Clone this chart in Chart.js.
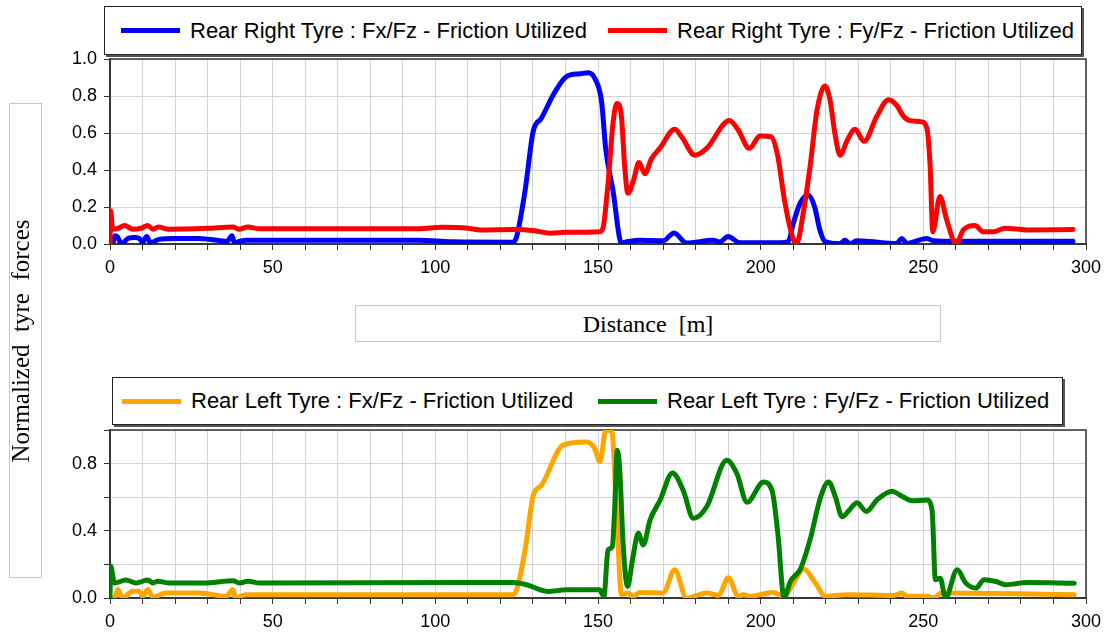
<!DOCTYPE html>
<html>
<head>
<meta charset="utf-8">
<script src="https://cdn.jsdelivr.net/npm/chart.js@4.4.0/dist/chart.umd.min.js"></script>
<style>
  body { margin: 0; background: #fff; }
  #page { position: relative; width: 1112px; height: 635px; overflow: hidden;
          font-family: "Liberation Sans", Arial, sans-serif; }
  canvas { position: absolute; left: 0; }
  .legend { position: absolute; background: #fff; border: 1px solid #222;
            box-shadow: 2px 2px 0 #555; box-sizing: border-box; }
  .item { position: absolute; top: 0; height: 100%; display: flex; align-items: center;
          font-size: 22px; color: #000; white-space: nowrap; }
  .swatch { display: inline-block; width: 59px; height: 5px; margin-right: 10px; }
  .titlebox { position: absolute; border: 1px solid #c8c8c8; box-sizing: border-box;
              font-family: "Liberation Serif", "Times New Roman", serif; font-size: 24px; color: #000; }
  .titlebox span { position: absolute; left: 50%; top: 50%; white-space: pre; }
</style>
</head>
<body>
<div id="page">
  <div class="legend" id="legendTop" style="left:104px;top:6px;width:978px;height:49px;"></div>
  <canvas id="chartTop" width="1112" height="290" style="top:0;"></canvas>

  <div class="titlebox" style="left:355px;top:305px;width:586px;height:37px;">
    <span id="xTitle" style="transform:translate(-50%,-50%);"></span>
  </div>

  <div class="legend" id="legendBottom" style="left:112px;top:377px;width:951px;height:48px;"></div>
  <canvas id="chartBottom" width="1112" height="295" style="top:340px;"></canvas>

  <div class="titlebox" style="left:9px;top:103px;width:33px;height:475px;font-size:25px;">
    <span id="yTitle" style="transform:translate(-52%,-50%) rotate(-90deg);"></span>
  </div>
</div>

<script>
// Axis titles
const xAxisTitle = "Distance  [m]";
const yAxisTitle = "Normalized  tyre  forces";

// Series names
const rrFxName = "Rear Right Tyre : Fx/Fz - Friction Utilized";
const rrFyName = "Rear Right Tyre : Fy/Fz - Friction Utilized";
const rlFxName = "Rear Left Tyre : Fx/Fz - Friction Utilized";
const rlFyName = "Rear Left Tyre : Fy/Fz - Friction Utilized";

// Rear right, longitudinal friction utilisation (distance m / ratio)
const rrFxDist = [0, 0.8, 1.5, 2.2, 3.6, 5.5, 7.5, 9, 10, 11.3,
  12.5, 15, 20, 27, 33, 36, 37.5, 38.3, 40, 42,
  60, 95, 105, 123.9, 125, 127.6, 130.1, 132.6, 136.7, 140.3,
  144.4, 147, 149, 151.1, 152.4, 154.6, 157.2, 159.2, 162.8, 170,
  173.4, 177.2, 185.4, 187.4, 190, 193.6, 205.9, 208.5, 210, 212.1,
  214.6, 216.6, 218.2, 219.8, 224.4, 225.9, 227.5, 229.5, 233.6, 241.8,
  243.4, 244.9, 251.1, 253.1, 256.2, 296];
const rrFxVal = [0.0, 0.0, 0.045, 0.04, 0.0, 0.03, 0.035, 0.03, 0.01, 0.04,
  0.005, 0.025, 0.03, 0.03, 0.02, 0.015, 0.045, 0.005, 0.015, 0.02,
  0.02, 0.02, 0.012, 0.01, 0.04, 0.29, 0.61, 0.68, 0.82, 0.905,
  0.92, 0.926, 0.896, 0.77, 0.51, 0.29, 0.007, 0.013, 0.02, 0.017,
  0.06, 0.005, 0.02, 0.011, 0.04, 0.007, 0.007, 0.013, 0.11, 0.22,
  0.265, 0.2, 0.076, 0.013, 0.002, 0.02, 0.002, 0.017, 0.013, 0.003,
  0.03, 0.003, 0.03, 0.017, 0.015, 0.015];

// Rear right, lateral friction utilisation
const rrFyDist = [0, 0.2, 0.8, 2.5, 4.5, 7, 9.5, 11.6, 13.2, 14.8,
  18, 30, 37.8, 39.6, 42.3, 46, 70, 95, 102, 110,
  113.7, 123.9, 130.6, 135.2, 140.3, 150.6, 151.6, 153.1, 154.6, 155.8,
  157.2, 158.2, 159.2, 160.8, 162.6, 164.4, 166.4, 169, 173.6, 175.7,
  179.8, 183.4, 190.4, 193.1, 196.5, 199.8, 203.2, 205.2, 207.3, 209.3,
  211, 213.2, 215.2, 217.3, 219.8, 221.3, 222.8, 224.4, 226.6, 229,
  231.8, 235.7, 239.3, 241.8, 243.9, 246, 249.6, 251.1, 252.1, 252.9,
  255.1, 257.2, 260.1, 262.3, 265.9, 268.4, 271.5, 275.1, 281.8, 296];
const rrFyVal = [0.0, 0.18, 0.08, 0.085, 0.1, 0.08, 0.085, 0.1, 0.08, 0.092,
  0.08, 0.085, 0.092, 0.08, 0.092, 0.082, 0.082, 0.083, 0.09, 0.085,
  0.076, 0.079, 0.072, 0.058, 0.063, 0.066, 0.092, 0.33, 0.65, 0.76,
  0.69, 0.42, 0.274, 0.337, 0.44, 0.38, 0.46, 0.517, 0.62, 0.58,
  0.48, 0.517, 0.667, 0.616, 0.517, 0.584, 0.58, 0.48, 0.24, 0.07,
  0.0, 0.18, 0.42, 0.72, 0.854, 0.78, 0.6, 0.48, 0.56, 0.62,
  0.555, 0.69, 0.78, 0.75, 0.69, 0.667, 0.66, 0.625, 0.42, 0.066,
  0.257, 0.13, 0.0, 0.076, 0.1, 0.066, 0.066, 0.085, 0.076, 0.078];

// Rear left, longitudinal friction utilisation
const rlFxDist = [0, 1.4, 2.4, 3.9, 7, 9, 10, 11.6, 13.2, 17.3,
  27.5, 35.7, 37.8, 38.6, 41.9, 100, 123.9, 125, 127.6, 130.1,
  132.6, 139.3, 146.5, 149, 150.6, 152.4, 154.2, 155.7, 157.2, 159.2,
  160.8, 162.8, 170, 173.6, 177.2, 183.4, 187, 190.1, 193.1, 194.7,
  196.7, 199.8, 203.9, 207.1, 210.1, 213.2, 216.8, 219.9, 226.5, 240.9,
  243.4, 245, 251.1, 253.1, 255.7, 296.4];
const rlFxVal = [0.0, 0.0, 0.05, 0.0, 0.04, 0.04, 0.01, 0.05, 0.005, 0.03,
  0.03, 0.01, 0.05, 0.0, 0.02, 0.02, 0.02, 0.049, 0.286, 0.61,
  0.67, 0.91, 0.928, 0.889, 0.81, 0.997, 0.997, 0.52, 0.02, 0.03,
  0.01, 0.033, 0.03, 0.168, 0.0, 0.03, 0.015, 0.12, 0.01, 0.02,
  0.01, 0.02, 0.033, 0.01, 0.09, 0.172, 0.09, 0.01, 0.02, 0.015,
  0.03, 0.01, 0.01, 0.0, 0.03, 0.02];

// Rear left, lateral friction utilisation
const rlFyDist = [0, 0.2, 1.4, 4.9, 8, 11.6, 13.2, 14.7, 18.3, 30,
  37.8, 39.8, 42.4, 46, 110, 123.9, 128, 134.6, 140.3, 150.5,
  151.8, 153.1, 154.4, 155.1, 155.9, 156.7, 157.7, 159.1, 160.6, 162.4,
  163.9, 166, 169.1, 172.9, 176.2, 179.3, 183.4, 189.6, 192.7, 195.8,
  200.9, 203.5, 205.3, 207.2, 209.1, 212.2, 215.3, 218.4, 220.9, 223,
  225, 227.1, 229.6, 232.5, 235.7, 240.4, 242.9, 246.5, 251.1, 252.7,
  253.7, 255.2, 256.8, 260.4, 263, 266.1, 268.7, 272.3, 275.3, 282,
  296.4];
const rlFyVal = [0.0, 0.19, 0.089, 0.107, 0.089, 0.107, 0.09, 0.1, 0.089, 0.09,
  0.103, 0.089, 0.1, 0.089, 0.092, 0.092, 0.079, 0.039, 0.049, 0.049,
  0.01, 0.286, 0.306, 0.52, 0.88, 0.76, 0.326, 0.069, 0.227, 0.385,
  0.316, 0.464, 0.583, 0.744, 0.64, 0.474, 0.543, 0.82, 0.74, 0.57,
  0.69, 0.64, 0.38, 0.0, 0.098, 0.172, 0.355, 0.6, 0.69, 0.6,
  0.484, 0.52, 0.567, 0.515, 0.583, 0.636, 0.612, 0.579, 0.583, 0.52,
  0.108, 0.118, 0.0, 0.168, 0.09, 0.059, 0.108, 0.098, 0.079, 0.092,
  0.088];

// Axis ranges
const xMin = 0, xMax = 300, xStep = 10, xLabelEvery = 50;
const yMin = 0, yMax = 1, yStep = 0.2;

function toPoints(dist, val) {
  return dist.map((d, i) => ({ x: d, y: val[i] }));
}

document.getElementById('xTitle').textContent = xAxisTitle;
document.getElementById('yTitle').textContent = yAxisTitle;

// Thin frame around the plotting area
const framePlugin = {
  id: 'frame',
  beforeDatasetsDraw(chart) {
    const { ctx, chartArea: a } = chart;
    ctx.save();
    ctx.strokeStyle = '#333';
    ctx.lineWidth = 1.5;
    ctx.strokeRect(a.left, a.top, a.right - a.left, a.bottom - a.top);
    ctx.restore();
  }
};

const tickFont = { family: 'Liberation Sans', size: 18 };

function buildChart(canvasId, datasets, padTop, xAxisHeight, yLabelFilter) {
  return new Chart(document.getElementById(canvasId), {
    type: 'line',
    data: { datasets },
    options: {
      responsive: false,
      animation: false,
      devicePixelRatio: 1,
      layout: { padding: { top: padTop, right: 26, left: 0, bottom: 0 } },
      elements: {
        point: { radius: 0 },
        line: { borderWidth: 5, cubicInterpolationMode: 'monotone',
                borderCapStyle: 'round', borderJoinStyle: 'round' }
      },
      plugins: { legend: { display: false }, tooltip: { enabled: false } },
      scales: {
        x: {
          type: 'linear', min: xMin, max: xMax,
          ticks: { stepSize: xStep, autoSkip: false, maxRotation: 0, padding: 7,
                   color: '#000', font: tickFont,
                   callback: v => (Math.round(v) % xLabelEvery === 0 ? String(v) : '') },
          grid: { color: '#d2d2d2', tickColor: '#333', tickLength: 6, lineWidth: 1 },
          border: { color: '#444', width: 2 },
          afterFit: s => { s.height = xAxisHeight; }
        },
        y: {
          min: yMin, max: yMax,
          ticks: { stepSize: yStep, autoSkip: false, padding: 7, color: '#000', font: tickFont,
                   callback: v => (yLabelFilter(v) ? v.toFixed(1) : '') },
          grid: { color: '#d2d2d2', tickColor: '#333', tickLength: 6, lineWidth: 1 },
          border: { color: '#444', width: 2 },
          afterFit: s => { s.width = 110; }
        }
      }
    },
    plugins: [framePlugin]
  });
}

function buildLegend(el, entries) {
  entries.forEach(e => {
    const item = document.createElement('div');
    item.className = 'item';
    item.style.left = e.left + 'px';
    const sw = document.createElement('span');
    sw.className = 'swatch';
    sw.style.background = e.color;
    const tx = document.createElement('span');
    tx.textContent = e.name;
    item.appendChild(sw);
    item.appendChild(tx);
    el.appendChild(item);
  });
}

const blue = '#0000ff', red = '#ff0000', orange = '#ffa500', green = '#008000';

buildChart('chartTop', [
  { label: rrFxName, data: toPoints(rrFxDist, rrFxVal), borderColor: blue, order: 2 },
  { label: rrFyName, data: toPoints(rrFyDist, rrFyVal), borderColor: red, order: 1 }
], 59, 46, v => true);

buildChart('chartBottom', [
  { label: rlFxName, data: toPoints(rlFxDist, rlFxVal), borderColor: orange, order: 2 },
  { label: rlFyName, data: toPoints(rlFyDist, rlFyVal), borderColor: green, order: 1 }
], 90, 37, v => Math.round(v * 10) % 4 === 0);

buildLegend(document.getElementById('legendTop'), [
  { name: rrFxName, color: blue, left: 16 },
  { name: rrFyName, color: red, left: 503 }
]);
buildLegend(document.getElementById('legendBottom'), [
  { name: rlFxName, color: orange, left: 9 },
  { name: rlFyName, color: green, left: 485 }
]);
</script>
</body>
</html>
